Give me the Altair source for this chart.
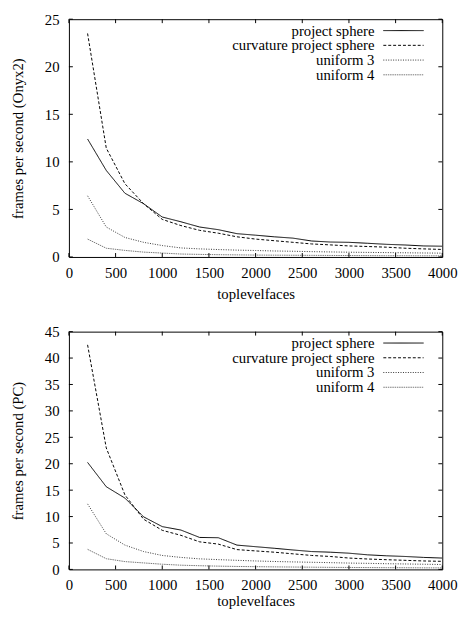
import altair as alt
import pandas as pd

x_vals = [200, 400, 600, 800, 1000, 1200, 1400, 1600, 1800, 2000,
          2200, 2400, 2600, 2800, 3000, 3200, 3400, 3600, 3800, 4000]

series_names = ["project sphere", "curvature project sphere", "uniform 3", "uniform 4"]

# Onyx2
onyx_project = [12.4, 9.1, 6.7, 5.6, 4.2, 3.7, 3.15, 2.87, 2.45, 2.29,
                2.12, 1.98, 1.68, 1.57, 1.54, 1.44, 1.33, 1.26, 1.16, 1.13]
onyx_curv = [23.5, 11.45, 7.7, 5.6, 3.95, 3.3, 2.8, 2.5, 2.12, 1.88,
             1.71, 1.54, 1.37, 1.27, 1.16, 1.1, 1.03, 0.92, 0.85, 0.79]
onyx_u3 = [6.43, 3.15, 2.05, 1.54, 1.2, 0.95, 0.85, 0.78, 0.72, 0.68,
           0.63, 0.6, 0.56, 0.53, 0.5, 0.48, 0.46, 0.44, 0.42, 0.4]
onyx_u4 = [1.88, 0.92, 0.69, 0.51, 0.41, 0.31, 0.27, 0.24, 0.22, 0.2,
           0.19, 0.18, 0.17, 0.16, 0.15, 0.14, 0.13, 0.13, 0.12, 0.12]

# PC
pc_project = [20.25, 15.65, 13.5, 9.95, 8.1, 7.45, 6.05, 6.0, 4.6, 4.3,
              4.0, 3.68, 3.38, 3.26, 3.07, 2.76, 2.58, 2.45, 2.27, 2.15]
pc_curv = [42.5, 23.0, 14.1, 9.5, 7.4, 6.45, 5.22, 4.79, 3.75, 3.5,
           3.26, 2.95, 2.64, 2.45, 2.15, 1.97, 1.84, 1.72, 1.6, 1.53]
pc_u3 = [12.4, 6.75, 4.6, 3.38, 2.64, 2.27, 2.0, 1.85, 1.72, 1.6,
         1.5, 1.42, 1.35, 1.28, 1.2, 1.15, 1.08, 1.03, 0.98, 0.93]
pc_u4 = [3.8, 2.03, 1.48, 1.23, 0.98, 0.8, 0.7, 0.62, 0.56, 0.52,
         0.48, 0.45, 0.42, 0.39, 0.37, 0.35, 0.33, 0.32, 0.3, 0.29]

x_ticks = [0, 500, 1000, 1500, 2000, 2500, 3000, 3500, 4000]
y_ticks_onyx = [0, 5, 10, 15, 20, 25]
y_ticks_pc = [0, 5, 10, 15, 20, 25, 30, 35, 40, 45]

line_colors = ["#000000", "#000000", "#333333", "#777777"]
line_dashes = [[1, 0], [3, 2], [1, 1.5], [1.5, 0.8]]

W, H = 380, 242
FONT = "Liberation Serif"
TICK = 4


def panel(series_values, y_max, y_ticks, y_title, x_lab_pad, x_title_pad):
    rows = []
    for name, vals in zip(series_names, series_values):
        for xv, yv in zip(x_vals, vals):
            rows.append({"x": xv, "y": yv, "series": name})
    df = pd.DataFrame(rows)

    xs = alt.Scale(domain=[0, 4000], nice=False)
    ys = alt.Scale(domain=[0, y_max], nice=False)
    x_axis = alt.Axis(values=x_ticks, title="toplevelfaces", format="d",
                      labelPadding=x_lab_pad, titlePadding=x_title_pad, labelFlush=False)
    y_axis = alt.Axis(values=y_ticks, title=y_title, format="d",
                      labelPadding=10, titlePadding=19, labelFlush=False)

    lines = alt.Chart(df).mark_line(strokeWidth=1, clip=True).encode(
        x=alt.X("x:Q", scale=xs, axis=x_axis, title="toplevelfaces"),
        y=alt.Y("y:Q", scale=ys, axis=y_axis, title=y_title),
        color=alt.Color("series:N", scale=alt.Scale(domain=series_names, range=line_colors), legend=None),
        strokeDash=alt.StrokeDash("series:N", scale=alt.Scale(domain=series_names, range=line_dashes), legend=None),
        detail="series:N",
    )

    xdf = pd.DataFrame({"t": x_ticks})
    ydf = pd.DataFrame({"t": y_ticks})
    xt_bot = alt.Chart(xdf).mark_rule(color="black", strokeWidth=1).encode(
        x=alt.X("t:Q", scale=xs, axis=x_axis, title="toplevelfaces"),
        y=alt.value(H), y2=alt.value(H - TICK))
    xt_top = alt.Chart(xdf).mark_rule(color="black", strokeWidth=1).encode(
        x=alt.X("t:Q", scale=xs, axis=x_axis, title="toplevelfaces"),
        y=alt.value(0), y2=alt.value(TICK))
    yt_left = alt.Chart(ydf).mark_rule(color="black", strokeWidth=1).encode(
        y=alt.Y("t:Q", scale=ys, axis=y_axis, title=y_title),
        x=alt.value(0), x2=alt.value(TICK))
    yt_right = alt.Chart(ydf).mark_rule(color="black", strokeWidth=1).encode(
        y=alt.Y("t:Q", scale=ys, axis=y_axis, title=y_title),
        x=alt.value(W), x2=alt.value(W - TICK))

    layers = [lines, xt_bot, xt_top, yt_left, yt_right]

    for i, name in enumerate(series_names):
        ly = 11.6 + i * 15.0
        ldf = pd.DataFrame({"label": [name]})
        layers.append(
            alt.Chart(ldf).mark_text(align="right", baseline="middle", font=FONT,
                                     fontSize=15, color="black").encode(
                text="label:N", x=alt.value(311), y=alt.value(ly)))
        layers.append(
            alt.Chart(ldf).mark_rule(color=line_colors[i], strokeWidth=1,
                                     strokeDash=line_dashes[i]).encode(
                x=alt.value(320), x2=alt.value(361), y=alt.value(ly)))

    return alt.layer(*layers).properties(width=W, height=H)


top = panel([onyx_project, onyx_curv, onyx_u3, onyx_u4], 25, y_ticks_onyx,
            "frames per second (Onyx2)", 9, 6)
bottom = panel([pc_project, pc_curv, pc_u3, pc_u4], 45, y_ticks_pc,
               "frames per second (PC)", 8, 2)

chart = alt.vconcat(top, bottom, spacing=22).properties(
    padding={"left": 2, "top": -2, "right": 0, "bottom": 0},
    background="white",
).configure_view(stroke="black", strokeWidth=1).configure_axis(
    labelFont=FONT, labelFontSize=15, labelColor="black", labelOverlap=False,
    titleFont=FONT, titleFontSize=15, titleFontWeight="normal", titleColor="black",
    ticks=False, tickSize=0, domain=False, grid=False, labelFlush=False,
)

chart.save("out.html", embed_options={"renderer": "svg", "actions": False})
